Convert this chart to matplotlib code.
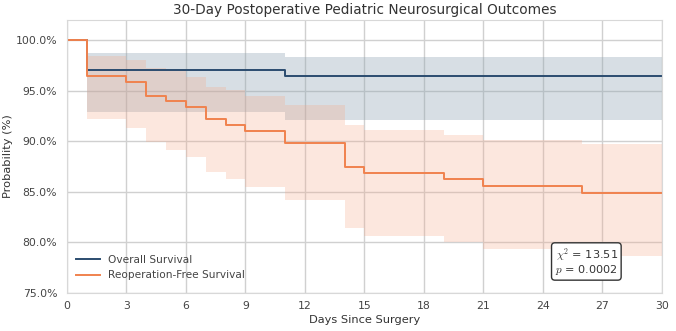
import numpy as np
import matplotlib.pyplot as plt
from matplotlib.ticker import FuncFormatter

# Kaplan-Meier estimates (percent)
os_days = [0, 1, 11, 30]
os_surv = [100.0, 97.0, 96.4, 96.4]
os_lo = [100.0, 92.9, 92.1, 92.1]
os_hi = [100.0, 98.7, 98.3, 98.3]

rf_days = [0, 1, 3, 4, 5, 6, 7, 8, 9, 11, 14, 15, 19, 21, 26, 30]
rf_surv = [100.0, 96.4, 95.8, 94.5, 94.0, 93.4, 92.2, 91.6, 91.0, 89.8,
           87.4, 86.8, 86.2, 85.6, 84.9, 84.9]
rf_lo = [100.0, 92.2, 91.3, 89.9, 89.1, 88.4, 86.9, 86.2, 85.5, 84.2,
         81.4, 80.6, 80.0, 79.3, 78.6, 78.6]
rf_hi = [100.0, 98.4, 98.0, 97.2, 97.1, 96.3, 95.4, 95.1, 94.5, 93.6,
         91.6, 91.1, 90.6, 90.1, 89.7, 89.7]

chi2 = 13.51
pval = 0.0002

c_os = '#2b4c6f'
c_rf = '#f0824e'

plt.rcParams['mathtext.fontset'] = 'cm'
fig = plt.figure(figsize=(6.76, 3.31), dpi=100)
ax = fig.add_axes([0.099, 0.116, 0.88, 0.824])

ax.fill_between(os_days, os_lo, os_hi, step='post', color='#8ea3b2', alpha=0.35, lw=0)
ax.fill_between(rf_days, rf_lo, rf_hi, step='post', color='#f7a98a', alpha=0.28, lw=0)
ax.step(os_days, os_surv, where='post', color=c_os, lw=1.4, label='Overall Survival')
ax.step(rf_days, rf_surv, where='post', color=c_rf, lw=1.4, label='Reoperation-Free Survival')

ax.set_xlim(0, 30)
ax.set_ylim(75, 102)
ax.set_xticks(np.arange(0, 31, 3))
ax.set_yticks([75, 80, 85, 90, 95, 100])
ax.yaxis.set_major_formatter(FuncFormatter(lambda v, p: '%.1f%%' % v))
ax.grid(True, color='#d0d0d0', lw=1)
ax.set_axisbelow(True)
for s in ax.spines.values():
    s.set_color('#d8d8d8')
ax.tick_params(length=0, labelsize=7.8, colors='#444444')
ax.tick_params(axis='y', pad=7)
ax.tick_params(axis='x', pad=6)

ax.set_title('30-Day Postoperative Pediatric Neurosurgical Outcomes', fontsize=9.8, color='#333333', pad=4)
ax.set_xlabel('Days Since Surgery', fontsize=8.2, color='#333333', labelpad=3)
ax.set_ylabel('Probability (%)', fontsize=8.2, color='#333333', labelpad=2)

ax.legend(loc='lower left', frameon=False, fontsize=7.6, handlelength=2.2,
          labelcolor='#444444', bbox_to_anchor=(0.0, 0.01))
ax.text(0.926, 0.058, '$\\chi^2$ = %.2f\n$p$ = %.4f' % (chi2, pval), transform=ax.transAxes,
        ha='right', va='bottom', fontsize=8.1, color='#333333', linespacing=0.95,
        bbox=dict(boxstyle='round,pad=0.3', fc='white', ec='#333333', lw=1))

plt.savefig('out.png', dpi=100)
plt.close()
